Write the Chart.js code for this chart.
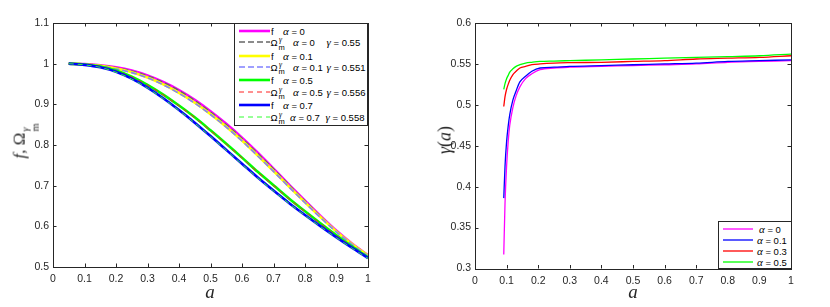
<!DOCTYPE html>
<html>
<head>
<meta charset="utf-8">
<script src="https://cdn.jsdelivr.net/npm/chart.js@4.4.1/dist/chart.umd.min.js"></script>
<style>
  body { margin: 0; background: #fff; }
  #wrap { position: relative; width: 830px; height: 307px; overflow: hidden; font-family: 'Liberation Sans', Arial, sans-serif; color: #000; }
  #wrap canvas { position: absolute; top: 0; }
  .ttl { position: absolute; font-family: 'Liberation Serif', 'DejaVu Serif', serif; color: #262626; white-space: nowrap; transform: translate(-50%, -50%); }
  .ttl.rot { transform: translate(-50%, -50%) rotate(-90deg); }
  .stk { display: inline-flex; flex-direction: column; font-size: 62%; line-height: 0.95; vertical-align: -0.35em; margin-left: 1px; }
  .legend { position: absolute; background: #fff; border: 1px solid #262626; box-sizing: border-box; font-size: 9.5px; }
  .row { position: absolute; left: 0; height: 0; }
  .row > * { position: absolute; top: 0; transform: translateY(-50%); white-space: nowrap; }
  .row svg { display: block; }
  .gk { font-family: 'Liberation Serif', serif; font-style: italic; font-size: 11px; }
  .sm { font-size: 7.5px; }
</style>
</head>
<body>
<div id="wrap">
  <canvas id="fChart" width="415" height="307" style="left:0"></canvas>
  <canvas id="gChart" width="415" height="307" style="left:415px"></canvas>

  <div class="ttl rot" style="left:25px; top:141px; font-size:17px;"><i>f</i>, Ω<span class="stk"><i>γ</i><span>m</span></span></div>
  <div class="ttl" style="left:210px; top:292px; font-size:19px;"><i>a</i></div>
  <div class="ttl rot" style="left:445px; top:140px; font-size:18px;"><i>γ</i>(<i>a</i>)</div>
  <div class="ttl" style="left:633px; top:292px; font-size:19px;"><i>a</i></div>

  <div class="legend" id="fLegend" style="left:234px; top:23px; width:134px; height:103px;"></div>
  <div class="legend" id="gLegend" style="left:718px; top:221px; width:74px; height:48px;"></div>
</div>

<script>
// ---- left panel: growth rate f(a) and Omega_m^gamma ----
const aGrid = [0.05, 0.1, 0.15, 0.2, 0.25, 0.3, 0.35, 0.4, 0.45, 0.5,
               0.55, 0.6, 0.65, 0.7, 0.75, 0.8, 0.85, 0.9, 0.95, 1.0];

const fAlpha0   = [1.000, 0.999, 0.996, 0.991, 0.983, 0.971, 0.955, 0.935, 0.911, 0.883, 0.852, 0.818, 0.781, 0.742, 0.702, 0.663, 0.625, 0.589, 0.557, 0.529];
const omAlpha0  = [1.000, 0.999, 0.996, 0.990, 0.982, 0.970, 0.954, 0.934, 0.909, 0.881, 0.850, 0.816, 0.779, 0.741, 0.701, 0.662, 0.624, 0.588, 0.556, 0.528];
const fAlpha01  = [1.000, 0.998, 0.995, 0.988, 0.979, 0.966, 0.949, 0.928, 0.904, 0.876, 0.845, 0.811, 0.774, 0.736, 0.697, 0.659, 0.622, 0.587, 0.556, 0.528];
const omAlpha01 = [1.000, 0.998, 0.994, 0.987, 0.978, 0.965, 0.948, 0.927, 0.903, 0.875, 0.844, 0.810, 0.773, 0.735, 0.696, 0.658, 0.621, 0.586, 0.555, 0.527];
const fAlpha05  = [1.000, 0.998, 0.993, 0.983, 0.968, 0.948, 0.924, 0.897, 0.868, 0.836, 0.803, 0.769, 0.734, 0.701, 0.668, 0.637, 0.607, 0.578, 0.550, 0.524];
const omAlpha05 = [1.000, 0.998, 0.993, 0.982, 0.967, 0.947, 0.923, 0.896, 0.867, 0.835, 0.802, 0.768, 0.733, 0.700, 0.667, 0.636, 0.606, 0.577, 0.549, 0.523];
const fAlpha07  = [1.000, 0.997, 0.991, 0.980, 0.963, 0.941, 0.915, 0.886, 0.855, 0.822, 0.788, 0.754, 0.720, 0.688, 0.657, 0.628, 0.600, 0.573, 0.547, 0.522];
const omAlpha07 = [1.000, 0.997, 0.991, 0.979, 0.962, 0.940, 0.914, 0.885, 0.854, 0.821, 0.787, 0.753, 0.719, 0.687, 0.656, 0.627, 0.599, 0.572, 0.546, 0.521];

const fAlphas   = [0, 0.1, 0.5, 0.7];
const fitGammas = [0.55, 0.551, 0.556, 0.558];

// ---- right panel: gamma(a) ----
const gA = [0.091, 0.095, 0.1, 0.105, 0.11, 0.12, 0.13, 0.142, 0.16, 0.18,
            0.206, 0.25, 0.3, 0.4, 0.5, 0.6, 0.7, 0.8, 0.9, 1.0];
const gAlpha0  = [0.317, 0.380, 0.425, 0.455, 0.475, 0.497, 0.511, 0.522, 0.532, 0.538, 0.543, 0.545, 0.546, 0.547, 0.548, 0.549, 0.550, 0.552, 0.553, 0.554];
const gAlpha01 = [0.386, 0.425, 0.455, 0.474, 0.488, 0.506, 0.517, 0.528, 0.535, 0.541, 0.545, 0.546, 0.547, 0.548, 0.549, 0.550, 0.551, 0.553, 0.554, 0.555];
const gAlpha03 = [0.498, 0.510, 0.519, 0.525, 0.530, 0.537, 0.541, 0.545, 0.547, 0.549, 0.550, 0.551, 0.5515, 0.552, 0.553, 0.554, 0.556, 0.557, 0.558, 0.560];
const gAlpha05 = [0.519, 0.526, 0.532, 0.536, 0.540, 0.544, 0.547, 0.549, 0.551, 0.552, 0.553, 0.5535, 0.554, 0.555, 0.556, 0.557, 0.558, 0.559, 0.560, 0.562];
const gAlphas  = [0, 0.1, 0.3, 0.5];

const xTicks = [0, 0.1, 0.2, 0.3, 0.4, 0.5, 0.6, 0.7, 0.8, 0.9, 1];

// styles
const fSolid  = ['#ff00ff', '#ffff00', '#00ff00', '#0000ff'];
const omDash  = [
  { color: '#666666', width: 1.6, dash: [6, 3] },
  { color: '#8080ff', width: 1.6, dash: [6, 3] },
  { color: '#ff2020', width: 1, dash: [5, 4] },
  { color: '#30ff30', width: 1, dash: [5, 4] }
];
const gColors = ['#ff00ff', '#0000ff', '#ff0000', '#00ff00'];

const pts = (xs, ys) => xs.map((x, i) => ({ x, y: ys[i] }));
const fmt = v => String(+(+v).toFixed(2));
const axisColor = '#262626';
const tickFont = { family: "'Liberation Sans', Arial, sans-serif", size: 10.5 };

// MATLAB style frame with inward ticks on all four sides
const boxTicks = {
  id: 'boxTicks',
  afterDraw(chart) {
    const { ctx, chartArea: { left, right, top, bottom }, scales: { x, y } } = chart;
    const len = 3.5;
    ctx.save();
    ctx.strokeStyle = axisColor;
    ctx.lineWidth = 1;
    ctx.beginPath();
    x.ticks.forEach(t => {
      const px = Math.round(x.getPixelForValue(t.value)) + 0.5;
      ctx.moveTo(px, bottom); ctx.lineTo(px, bottom - len);
      ctx.moveTo(px, top); ctx.lineTo(px, top + len);
    });
    y.ticks.forEach(t => {
      const py = Math.round(y.getPixelForValue(t.value)) + 0.5;
      ctx.moveTo(left, py); ctx.lineTo(left + len, py);
      ctx.moveTo(right, py); ctx.lineTo(right - len, py);
    });
    ctx.stroke();
    ctx.strokeRect(Math.round(left) + 0.5, Math.round(top) + 0.5, Math.round(right - left), Math.round(bottom - top));
    ctx.restore();
  }
};

function makeScales(yMin, yMax, yStep, yWidth, xHeight) {
  return {
    x: {
      type: 'linear', min: 0, max: 1,
      afterBuildTicks: s => { s.ticks = xTicks.map(v => ({ value: v })); },
      afterFit: s => { s.height = xHeight; },
      grid: { display: false, drawTicks: false }, border: { display: false },
      ticks: { color: axisColor, font: tickFont, padding: 6, autoSkip: false, maxRotation: 0, callback: fmt }
    },
    y: {
      type: 'linear', min: yMin, max: yMax,
      afterFit: s => { s.width = yWidth; },
      grid: { display: false, drawTicks: false }, border: { display: false },
      ticks: { color: axisColor, font: tickFont, padding: 4, stepSize: yStep, autoSkip: false, callback: fmt }
    }
  };
}

const baseOpts = {
  responsive: false,
  animation: false,
  events: [],
  plugins: { legend: { display: false }, tooltip: { enabled: false } },
  elements: { point: { radius: 0 }, line: { cubicInterpolationMode: 'monotone' } }
};

// left chart
const fSeries = [fAlpha0, fAlpha01, fAlpha05, fAlpha07];
const omSeries = [omAlpha0, omAlpha01, omAlpha05, omAlpha07];
const fDatasets = [];
fSeries.forEach((s, i) => {
  fDatasets.push({ label: 'f α = ' + fAlphas[i], data: pts(aGrid, s), borderColor: fSolid[i], borderWidth: 2.6, showLine: true });
  fDatasets.push({ label: 'Ωm^γ α = ' + fAlphas[i] + ' γ = ' + fitGammas[i], data: pts(aGrid, omSeries[i]),
    borderColor: omDash[i].color, borderWidth: omDash[i].width, borderDash: omDash[i].dash, showLine: true });
});
fDatasets.forEach((d, i) => { d.order = fDatasets.length - i; });

new Chart(document.getElementById('fChart'), {
  type: 'scatter',
  data: { datasets: fDatasets },
  options: Object.assign({}, baseOpts, {
    layout: { padding: { top: 23, right: 47, left: 0, bottom: 0 } },
    scales: makeScales(0.5, 1.1, 0.1, 53, 40)
  }),
  plugins: [boxTicks]
});

// right chart
const gSeries = [gAlpha0, gAlpha01, gAlpha03, gAlpha05];
const gDatasets = gSeries.map((s, i) => ({
  label: 'α = ' + gAlphas[i], data: pts(gA, s), borderColor: gColors[i], borderWidth: 1.3, showLine: true,
  order: gSeries.length - i
}));

new Chart(document.getElementById('gChart'), {
  type: 'scatter',
  data: { datasets: gDatasets },
  options: Object.assign({}, baseOpts, {
    layout: { padding: { top: 23, right: 39, left: 0, bottom: 0 } },
    scales: makeScales(0.3, 0.6, 0.05, 60, 38.5)
  }),
  plugins: [boxTicks]
});

// ---- legends (HTML so that Omega gets its sub/superscript) ----
function sample(color, width, dash, len) {
  const da = dash ? ` stroke-dasharray="${dash.join(' ')}"` : '';
  return `<svg width="${len}" height="6"><line x1="0" y1="3" x2="${len}" y2="3" stroke="${color}" stroke-width="${width}"${da}/></svg>`;
}

const fLeg = document.getElementById('fLegend');
let html = '';
fAlphas.forEach((al, i) => {
  const yf = 6.7 + 24.8 * i;
  const yo = yf + 11.4;
  html += `<div class="row" style="top:${yf}px">
      <span style="left:3.5px">${sample(fSolid[i], 2.6, null, 31)}</span>
      <span style="left:36px">f</span>
      <span style="left:48px"><span class="gk">α</span> = ${al}</span></div>`;
  html += `<div class="row" style="top:${yo}px">
      <span style="left:3.5px">${sample(omDash[i].color, omDash[i].width, omDash[i].dash, 31)}</span>
      <span style="left:35.5px">Ω</span>
      <span class="gk sm" style="left:44px; top:-3px">γ</span>
      <span class="sm" style="left:43.5px; top:4.5px">m</span>
      <span style="left:${i === 3 ? 55 : 58}px"><span class="gk">α</span> = ${al}</span>
      <span style="left:${i === 3 ? 90.5 : 91.5}px"><span class="gk">γ</span> = ${fitGammas[i]}</span></div>`;
});
fLeg.innerHTML = html;

const gLeg = document.getElementById('gLegend');
html = '';
gAlphas.forEach((al, i) => {
  const y = 7 + 11.1 * i;
  html += `<div class="row" style="top:${y}px">
      <span style="left:4px">${sample(gColors[i], 1.3, null, 30)}</span>
      <span style="left:${i === 0 ? 40 : 38}px"><span class="gk">α</span> = ${al}</span></div>`;
});
gLeg.innerHTML = html;
</script>
</body>
</html>
